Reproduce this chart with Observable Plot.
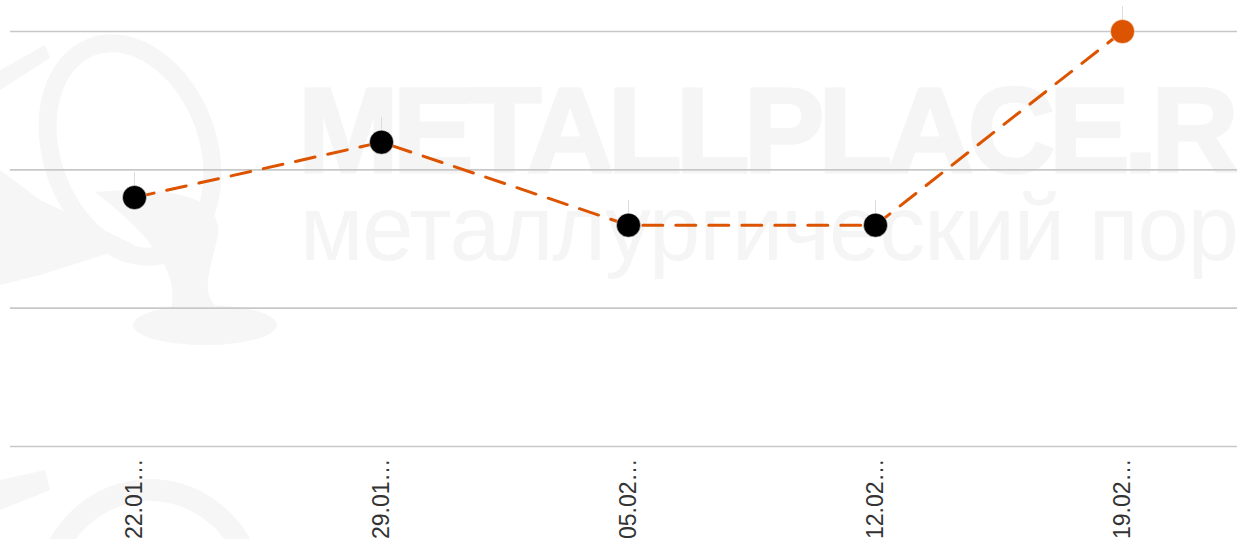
<!DOCTYPE html>
<html>
<head>
<meta charset="utf-8">
<script src="https://cdn.jsdelivr.net/npm/d3@7"></script>
<script src="https://cdn.jsdelivr.net/npm/@observablehq/plot@0.6"></script>
<style>
  html, body { margin: 0; padding: 0; background: #fff; overflow: hidden; width: 1237px; height: 539px; }
  #wrap { position: relative; width: 1237px; height: 539px; overflow: hidden; }
  .wm { position: absolute; white-space: nowrap; color: #f5f5f5; font-family: "Liberation Sans", Arial, sans-serif; pointer-events: none; }
  #wm1 { left: 298px; top: 60px; font-size: 121px; font-weight: bold; letter-spacing: -6px; word-spacing: 0; -webkit-text-stroke: 3px #f5f5f5; }
  #wm2 { left: 300px; top: 176px; font-size: 92px; letter-spacing: -1px; }
  #logo { position: absolute; left: 0; top: 0; }
  #chart { position: absolute; left: 0; top: 0; }
</style>
</head>
<body>
<div id="wrap">
  <svg id="logo" width="1237" height="539">
    <g fill="none" stroke="#f6f6f6">
      <ellipse cx="130" cy="150" rx="78" ry="110" stroke-width="18" transform="rotate(-20 130 150)"/>
      <ellipse cx="150" cy="600" rx="105" ry="110" stroke-width="22"/>
    </g>
    <g fill="#f6f6f6">
      <path d="M0 70 L45 45 L50 58 L0 90 Z"/>
      <path d="M0 170 L40 200 L135 245 L40 275 L0 285 Z"/>
      <path d="M95 192 C 180 185, 222 200, 218 235 C 212 265, 200 290, 215 305 L170 312 C 178 285, 170 250, 95 192 Z"/>
      <ellipse cx="205" cy="325" rx="72" ry="20"/>
      <path d="M0 480 L45 470 L50 490 L0 510 Z"/>
    </g>
  </svg>
  <div class="wm" id="wm1">METALLPLACE.RU</div>
  <div class="wm" id="wm2">металлургический портал</div>
  <div id="chart"></div>
</div>
<script>
const dates = ["22.01.2024", "29.01.2024", "05.02.2024", "12.02.2024", "19.02.2024"];
const values = [90, 110, 80, 80, 150];
const gridValues = [0, 50, 100, 150];
const highlightIndex = 4;

const data = dates.map((d, i) => ({date: d, value: values[i], last: i === highlightIndex}));

const orange = "#DC5400";

const plot = Plot.plot({
  width: 1246,
  height: 539,
  marginLeft: 10,
  marginRight: 0,
  marginTop: 31,
  marginBottom: 93,
  style: {background: "transparent", maxWidth: "none", fontFamily: "'Liberation Sans', Arial, sans-serif"},
  x: {type: "point", domain: dates, padding: 0.5, label: null},
  y: {domain: [0, 150], axis: null},
  marks: [
    Plot.ruleY(gridValues, {stroke: "#c8c8c8", strokeWidth: 1.6}),
    Plot.ruleX(data, {x: "date", y1: "value", y2: d => d.value + 9, stroke: "#dcdcdc", strokeWidth: 1}),
    Plot.line(data, {x: "date", y: "value", stroke: orange, strokeWidth: 3, strokeDasharray: "20,13"}),
    Plot.dot(data, {x: "date", y: "value", r: 12, fill: d => d.last ? orange : "#000", stroke: "#fff", strokeWidth: 0.5}),
    Plot.axisX({
      tickRotate: -90,
      tickSize: 0,
      tickPadding: 12,
      fontSize: 23,
      fill: "#333",
      tickFormat: d => d.slice(0, 5) + "…",
      label: null
    })
  ]
});
document.getElementById("chart").appendChild(plot);
</script>
</body>
</html>
